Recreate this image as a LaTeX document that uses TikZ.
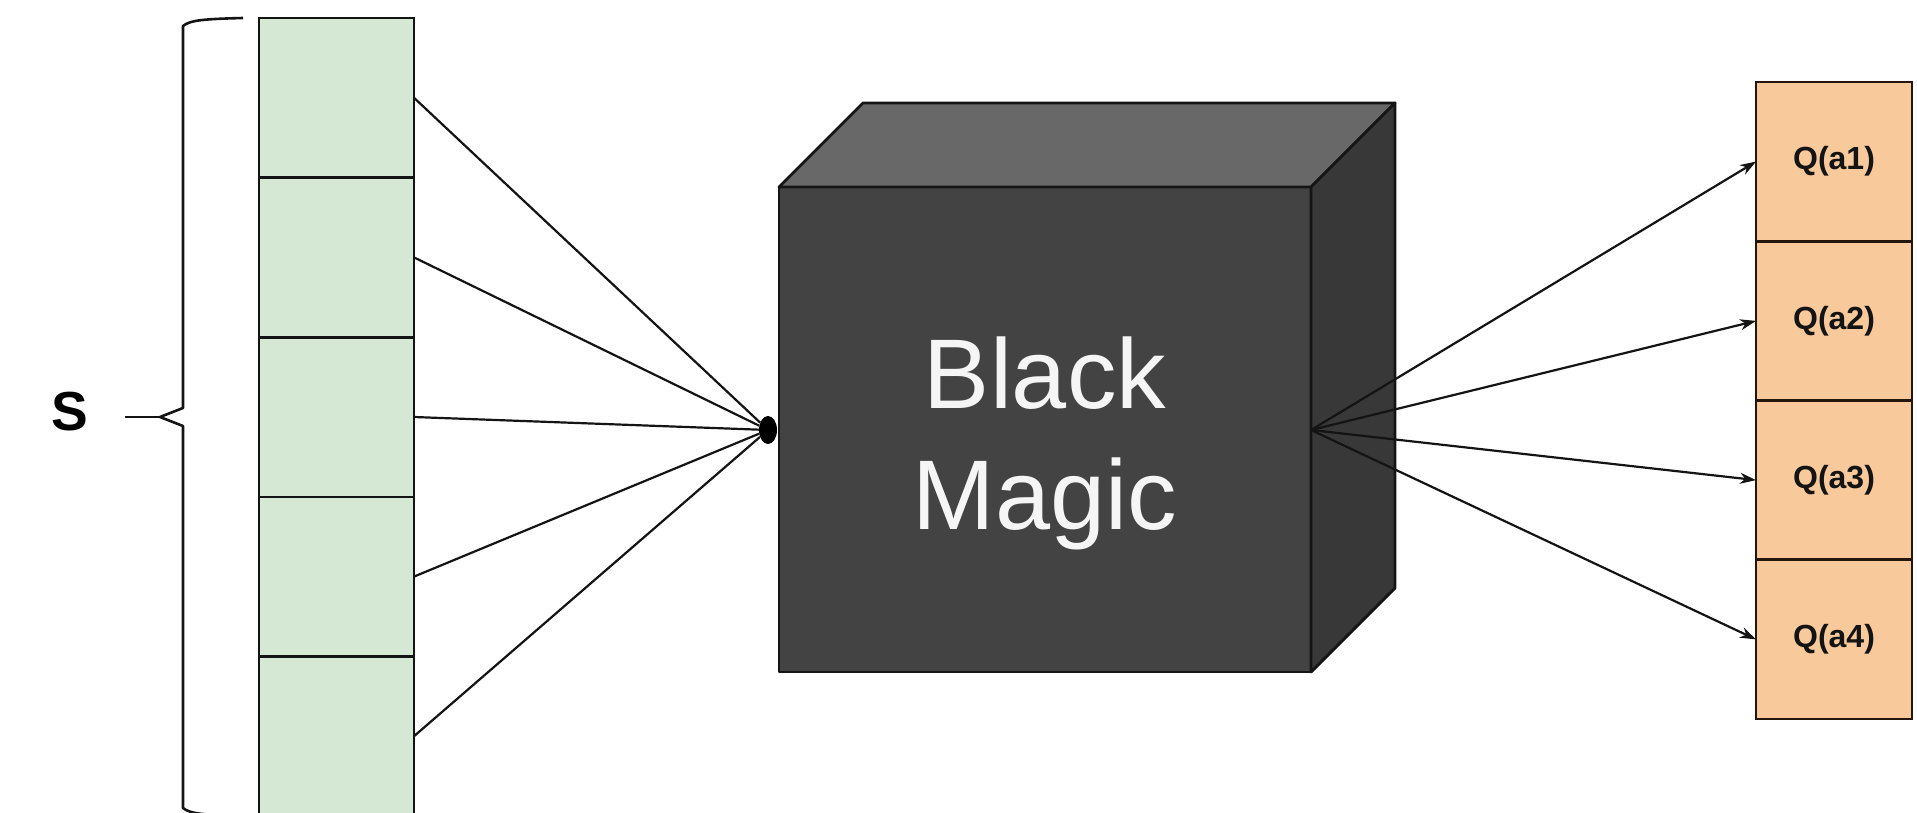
\documentclass[tikz,border=0pt]{standalone}
\usepackage{fontspec}
\setmainfont{Liberation Sans}
\usetikzlibrary{arrows.meta,calc,shapes.geometric}
\definecolor{cellgreen}{HTML}{D5E8D4}
\definecolor{cellorange}{HTML}{F8C99B}
\definecolor{facefront}{HTML}{434343}
\definecolor{facetop}{HTML}{686868}
\definecolor{faceside}{HTML}{383838}
\definecolor{edgeink}{HTML}{141414}
\definecolor{qink}{HTML}{24160C}

\begin{document}
\begin{tikzpicture}[x=1pt,y=-1pt,
  statecell/.style={draw=edgeink, line width=2.6pt, fill=cellgreen,
    minimum width=155pt, minimum height=159.6pt, inner sep=0pt, outer sep=0pt},
  qcell/.style={draw=qink, line width=2.6pt, fill=cellorange, text=edgeink,
    minimum width=156pt, minimum height=159.25pt, inner sep=0pt, outer sep=0pt,
    font=\fontsize{32}{38}\selectfont\bfseries},
  wire/.style={draw=edgeink, line width=2.2pt},
  arrowwire/.style={wire, -{Stealth[length=16pt,width=11pt]}},
  cubeedge/.style={draw=edgeink, line width=2.8pt, line join=round},
  bracket/.style={draw=edgeink, line width=2.6pt, line join=round}]

\useasboundingbox (0,0) rectangle (1917,813);
\fill[white] (0,0) rectangle (1917,813);

% state vector
\foreach \i/\y in {1/97.8, 2/257.4, 3/417.0, 4/576.6, 5/736.2}
  \node[statecell] (s\i) at (336.5,\y) {};

% curly bracket grouping the state
\draw[bracket] (243,18) .. controls (205,19) and (190,20) .. (183,26)
  -- (183,408) -- (160,417) -- (183,426) -- (183,808)
  .. controls (190,814) and (205,815) .. (243,816);
\draw[bracket] (160,417) -- (125,417);
\node[font=\fontsize{55}{60}\selectfont\bfseries, anchor=base, inner sep=0pt] (slabel) at (70,430) {S};

% the black box (cube)
\node[cubeedge, fill=facefront, minimum width=532pt, minimum height=485pt,
  inner sep=0pt, outer sep=0pt] (front) at (1045,429.5) {};
\path (front.north west) ++(84,-84) coordinate (tnw);
\path (front.north east) ++(84,-84) coordinate (tne);
\path (front.south east) ++(84,-84) coordinate (tse);
\draw[cubeedge, fill=facetop] (front.north west) -- (tnw) -- (tne) -- (front.north east) -- cycle;
\draw[cubeedge, fill=faceside] (front.north east) -- (tne) -- (tse) -- (front.south east) -- cycle;
\node[text=white!96!black, align=center, inner sep=0pt,
  font=\fontsize{99}{121}\selectfont] (magic) at (1045,443.5) {Black\\Magic};

% inputs merge into the box
\node[ellipse, fill=black, minimum width=18pt, minimum height=28pt, inner sep=0pt] (hub) at (768,430) {};
\foreach \i in {1,...,5}
  \draw[wire] (s\i.east) -- (hub);

% action values
\foreach \i/\y/\t in {1/161.6/{Q(a1)}, 2/320.9/{Q(a2)}, 3/480.1/{Q(a3)}, 4/639.4/{Q(a4)}}
  \node[qcell] (q\i) at (1834,\y) {\t};

\coordinate (out) at (1311,430);
\foreach \i in {1,...,4}
  \draw[arrowwire] (out) -- (q\i.west);
\end{tikzpicture}
\end{document}
